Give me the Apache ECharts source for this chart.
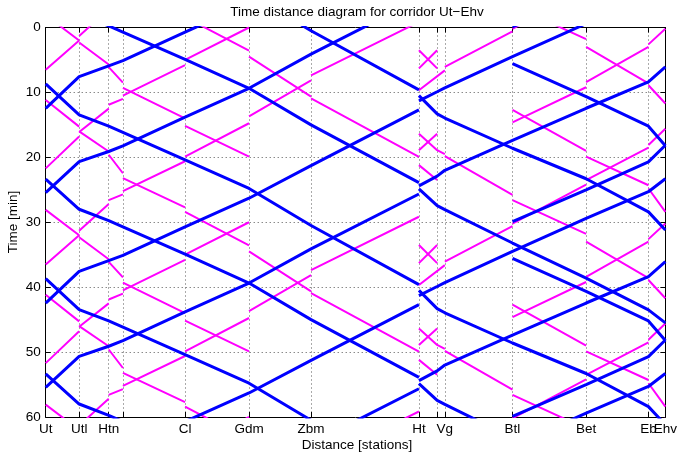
<!DOCTYPE html>
<html><head><meta charset="utf-8">
<script src="https://cdn.jsdelivr.net/npm/echarts@6/dist/echarts.min.js"></script>
<style>html,body{margin:0;padding:0;background:#fff}#c{width:680px;height:454px}</style>
</head><body><div id="c"></div>
<script>
// ---- stations (distance axis) ----
const stationNames = ['Ut','Utl','Htn','','Cl','Gdm','Zbm','Ht','','Vg','Btl','Bet','Eb','Ehv'];
const stationPos = [0, 5.40, 10.17, 12.46, 22.49, 32.81, 42.82, 60.23, 63.17, 64.41, 75.33, 87.21, 97.27, 100];
const labelPosMain = [0, 5.40, 10.17, 22.49, 32.81, 42.82, 60.23, 64.41, 75.33, 87.21, 100];
const labelPosExtra = [97.27];
const timeTicks = [0, 10, 20, 30, 40, 50, 60];
// every train run repeats each 30 minutes (periodic timetable)
const runShifts = [-30, 0, 30, 60];

// ---- intercity trains (blue): [station, arrival, departure] in minutes ----
const icA_south = [[0,8.7],[1,13.45],[2,15.2],[3,16.15],[4,20.4],[5,24.8],[6,30.5],[7,39.6,40.5],[8,43.3],[9,43.95],[10,48.6],[11,53.3],[12,58.4],[13,61.2]];
const icB_south = [[0,23.35],[1,28.0],[2,29.75],[3,30.7],[4,34.9],[5,39.36],[6,45.0],[7,53.9,54.85],[8,57.45],[9,58.05],[10,63.2],[11,68.6],[12,73.5],[13,75.5]];
const icBtl_south = [[10,5.55],[11,10.65],[12,15.2],[13,18.2]];
const icA_north = [[13,-6.7],[12,-4.7],[11,-0.6],[10,4.5],[9,9.3],[8,9.9],[7,11.3,12.7],[6,21.27],[5,26.3],[4,30.7],[3,35.1],[2,35.9],[1,37.57],[0,42.45]];
const icB_north = [[13,6.08],[12,8.39],[11,12.44],[10,17.4],[9,22.0],[8,22.9],[7,24.4,25.65],[6,34.1],[5,39.36],[4,43.8],[3,48.24],[2,49.1],[1,50.66],[0,55.43]];
const icBtl_north = [[13,18.14],[12,20.7],[11,25.0],[10,29.9]];

// ---- sprinter trains (magenta) ----
const spA_south = [[0,-1.9],[1,2.0,2.3],[2,5.7,6.1],[3,8.5,9.3],[4,14.0,15.15],[5,19.9]];
const spB_south = [[0,11.16],[1,15.27,16.0],[2,19.1,19.6],[3,22.45,23.2],[4,27.7,28.4],[5,33.57,34.49],[6,40.65,40.9],[7,49.93,51.2],[8,53.5]];
const spA_north = [[5,0],[4,5.0,5.8],[3,10.5,11.0],[2,11.9,12.5],[1,16.1,16.8],[0,21.7]];
const spB_north = [[7,-0.85],[6,7.36,8.13],[5,13.7,14.75],[4,19.9,20.6],[3,25.2,25.7],[2,26.6,27.2],[1,31.3,32.0],[0,36.5]];
const spC_south = [[7,3.5],[8,6.3]];
const spC_north = [[8,3.5],[7,6.3]];
const spD_north = [[8,16.35],[7,18.9]];
const spD_south = [[7,16.35],[8,18.9],[9,19.5,19.8],[10,25.8,26.6],[11,31.8,33.0],[12,38.6,38.9],[13,41.7]];
const spE_north = [[13,15.6],[12,18.1,18.5],[11,23.5,24.2],[10,30.2,30.6],[9,36.08,36.6],[7,39.67]];
const spF_south = [[10,12.7],[11,19.0,19.9],[12,24.3,24.8],[13,28.4]];
const spF_north = [[13,0.2],[12,2.6,3.0],[11,8.4,9.2],[10,14.6]];

const blueTrains = [icA_south, icB_south, icBtl_south, icA_north, icB_north, icBtl_north];
const magentaTrains = [spA_south, spB_south, spA_north, spB_north, spC_south, spC_north, spD_north, spD_south, spE_north, spF_south, spF_north];

function path(stops, shift) {
  const pts = [];
  for (let i = 0; i < stops.length; i++) {
    const s = stops[i], x = stationPos[s[0]];
    const arr = s[1], dep = s.length > 2 ? s[2] : s[1];
    const last = i === stops.length - 1;
    if (i > 0) pts.push([x, arr + shift]);
    if (i > 0 && !last && dep !== arr) pts.push([x, '-']);
    if (!last && (i === 0 || dep !== arr)) pts.push([x, dep + shift]);
  }
  return pts;
}
function nameAt(v) {
  for (let i = 0; i < stationPos.length; i++) if (Math.abs(stationPos[i] - v) < 1e-6) return stationNames[i];
  return '';
}

const series = [];
function addTrains(list, color, width) {
  list.forEach(stops => runShifts.forEach(sh => {
    series.push({
      type: 'line', data: path(stops, sh), showSymbol: false, symbol: 'none',
      xAxisIndex: 0, yAxisIndex: 0,
      connectNulls: false, clip: true, silent: true, animation: false,
      lineStyle: { color: color, width: width }, z: 3
    });
  }));
}
addTrains(magentaTrains, '#ff00ff', 2);
addTrains(blueTrains, '#0000ff', 3);

const FONT = 'Liberation Sans';
const FS = 13.5;
const gridLine = { show: true, lineStyle: { type: [1, 3], color: '#555', width: 1 } };
const labelStyle = { color: '#000', fontSize: FS, fontFamily: FONT, margin: 5, hideOverlap: false, showMinLabel: true, showMaxLabel: true };
const option = {
  animation: false,
  backgroundColor: '#fff',
  grid: { left: 45.7, right: 11.7, top: 27.5, bottom: 37, containLabel: false },
  xAxis: [{
    type: 'value', min: 0, max: 100, position: 'bottom',
    axisLine: { show: true, onZero: false, lineStyle: { color: '#000', width: 1 } },
    axisTick: { show: true, inside: true, length: 5, customValues: stationPos, lineStyle: { color: '#000' } },
    axisLabel: Object.assign({ show: true, customValues: labelPosMain, formatter: nameAt }, labelStyle),
    splitLine: gridLine
  }, {
    type: 'value', min: 0, max: 100, position: 'bottom',
    axisLine: { show: false, onZero: false },
    axisTick: { show: false, customValues: labelPosExtra },
    axisLabel: Object.assign({ show: true, customValues: labelPosExtra, formatter: nameAt }, labelStyle),
    splitLine: { show: false }
  }, {
    type: 'value', min: 0, max: 100, position: 'top',
    axisLine: { show: true, onZero: false, lineStyle: { color: '#000', width: 1 } },
    axisTick: { show: true, inside: true, length: 5, customValues: stationPos, lineStyle: { color: '#000' } },
    axisLabel: { show: false }, splitLine: { show: false }
  }],
  yAxis: [{
    type: 'value', inverse: true, min: 0, max: 60, interval: 10, position: 'left',
    axisLine: { show: true, onZero: false, lineStyle: { color: '#000', width: 1 } },
    axisTick: { show: true, inside: true, length: 5, lineStyle: { color: '#000' } },
    axisLabel: Object.assign({ show: true, customValues: timeTicks }, labelStyle),
    splitLine: gridLine
  }, {
    type: 'value', inverse: true, min: 0, max: 60, interval: 10, position: 'right',
    axisLine: { show: true, onZero: false, lineStyle: { color: '#000', width: 1 } },
    axisTick: { show: true, inside: true, length: 5, lineStyle: { color: '#000' } },
    axisLabel: { show: false }, splitLine: { show: false }
  }],
  graphic: [
    { type: 'text', x: 357, y: 12, style: { text: 'Time distance diagram for corridor Ut\u2212Ehv', fontSize: FS, fontFamily: FONT, fill: '#000', align: 'center', verticalAlign: 'middle' } },
    { type: 'text', x: 357, y: 445, style: { text: 'Distance [stations]', fontSize: FS, fontFamily: FONT, fill: '#000', align: 'center', verticalAlign: 'middle' } },
    { type: 'text', x: 12.8, y: 222, rotation: Math.PI / 2, style: { text: 'Time [min]', fontSize: FS, fontFamily: FONT, fill: '#000', align: 'center', verticalAlign: 'middle' } }
  ],
  series: series
};
const chart = echarts.init(document.getElementById('c'));
chart.setOption(option);
</script>
</body></html>
